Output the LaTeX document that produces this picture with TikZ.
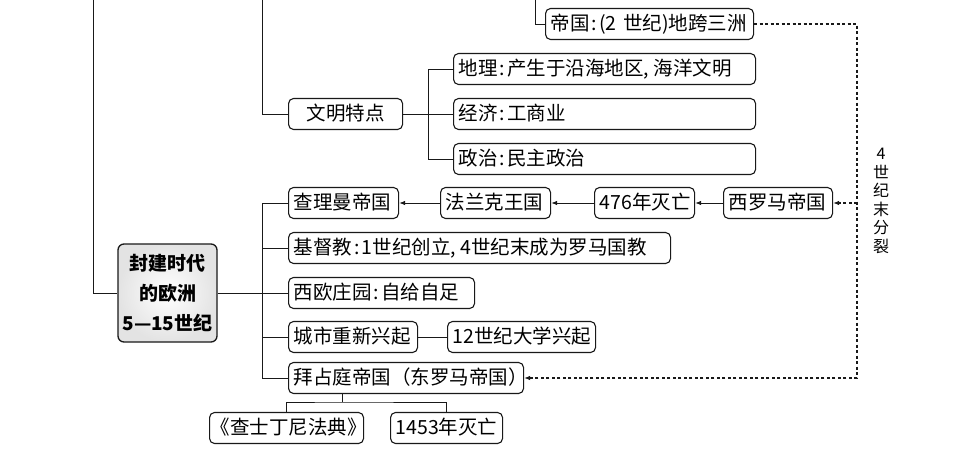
\documentclass[tikz,border=0pt]{standalone}
\usepackage{fontspec}
\newfontfamily\cjkf{Noto Sans CJK SC}
\usetikzlibrary{arrows.meta}
\newcommand\zcolon{\makebox[0.5em]{:}}
\newcommand\zcomma{\makebox[0.5em][l]{,}}
\begin{document}
\begin{tikzpicture}[x=1pt,y=-1pt,
  box/.style={draw=black!90, line width=1.1pt, rounded corners=5pt, anchor=west,
    inner xsep=5pt, inner ysep=0pt, minimum height=31pt, text height=15pt,
    text depth=2.5pt, align=left, font=\cjkf\fontsize{19.5}{22}\selectfont},
  mainbox/.style={draw=black!90, line width=1.3pt, rounded corners=6pt,
    minimum width=99pt, minimum height=98pt, inner sep=0pt, align=center,
    inner color=white, outer color=black!11,
    font=\cjkf\bfseries\fontsize{19}{30}\selectfont},
  conn/.style={draw=black!90, line width=1pt},
  arr/.style={conn, -{Latex[length=6pt,width=4.5pt]}},
  dsh/.style={draw=black!90, line width=1.1pt, dash pattern=on 3pt off 2.5pt},
  lbl/.style={align=center, inner sep=0pt, font=\cjkf\fontsize{16}{18.5}\selectfont}
]
\fill[white] (0,0) rectangle (974,466);
\useasboundingbox (0,0) rectangle (974,466);

% top part
\node[box, text width=198pt] (dg) at (545,24) {帝国\zcolon(2 世纪)地跨三洲};
\node[box, text width=292pt] (dl) at (453,69) {地理\zcolon 产生于沿海地区\zcomma 海洋文明};
\node[box, text width=292pt] (jj) at (453,114) {经济\zcolon 工商业};
\node[box, text width=292pt] (zz) at (453,159) {政治\zcolon 民主政治};
\node[box, text width=104pt, align=center] (wm) at (288,114) {文明特点};

% west row
\node[box, text width=100pt] (clm) at (288,203) {查理曼帝国};
\node[box, text width=100pt] (flk) at (440,203) {法兰克王国};
\node[box, text width=90pt] (d476) at (594,203) {476年灭亡};
\node[box, text width=99pt] (xlm) at (723,203) {西罗马帝国};

\node[box, text width=372pt] (jdj) at (288,248) {基督教\zcolon 1世纪创立\zcomma 4世纪末成为罗马国教};
\node[box, text width=176pt] (xo) at (288,293) {西欧庄园\zcolon 自给自足};
\node[box, text width=119pt] (cs) at (288,337) {城市重新兴起};
\node[box, text width=138pt] (dx) at (447,337) {12世纪大学兴起};
\node[box, text width=225pt] (bzt) at (288,378) {拜占庭帝国（东罗马帝国）};
\node[box, text width=152pt, inner xsep=1pt] (fd) at (209,428) {《查士丁尼法典》};
\node[box, text width=102pt] (d1453) at (390,428) {1453年灭亡};

\node[mainbox] (lb) at (167.5,293) {封建时代\\的欧洲\\5—15世纪};

\node[lbl] (fl) at (881,201) {4\\世\\纪\\末\\分\\裂};

% connectors
\coordinate (top1) at (93,0);
\coordinate (top2) at (262,0);
\coordinate (top3) at (535,0);
\draw[conn] (top1) |- (lb.west);
\draw[conn] (top2) |- (wm.west);
\draw[conn] (top3) |- (dg.west);
\draw[conn] (wm.east) -- (jj.west);
\draw[conn] (dl.west) -- ++(-25,0) |- (zz.west);

\draw[conn] (lb.east) -- (xo.west);
\draw[conn] (clm.west) -- ++(-26,0) |- (bzt.west);
\draw[conn] (jdj.west) -- ++(-26,0);
\draw[conn] (cs.west) -- ++(-26,0);
\draw[conn] (cs.east) -- (dx.west);

\draw[arr] (xlm.west) -- (d476.east);
\draw[arr] (d476.west) -- (flk.east);
\draw[arr] (flk.west) -- (clm.east);

\coordinate (bj) at (342,402);
\draw[conn] (bj |- bzt.south) -- (bj);
\draw[conn] (fd.north) |- (bj) -| (d1453.north);

\coordinate (dc) at (857,378);
\coordinate (dm) at (857,203);
\draw[dsh, -{Latex[length=6pt,width=4.5pt]}] (dg.east) -| (dc) -- (bzt.east);
\draw[dsh, -{Latex[length=6pt,width=4.5pt]}] (dm) -- (xlm.east);
\end{tikzpicture}
\end{document}
